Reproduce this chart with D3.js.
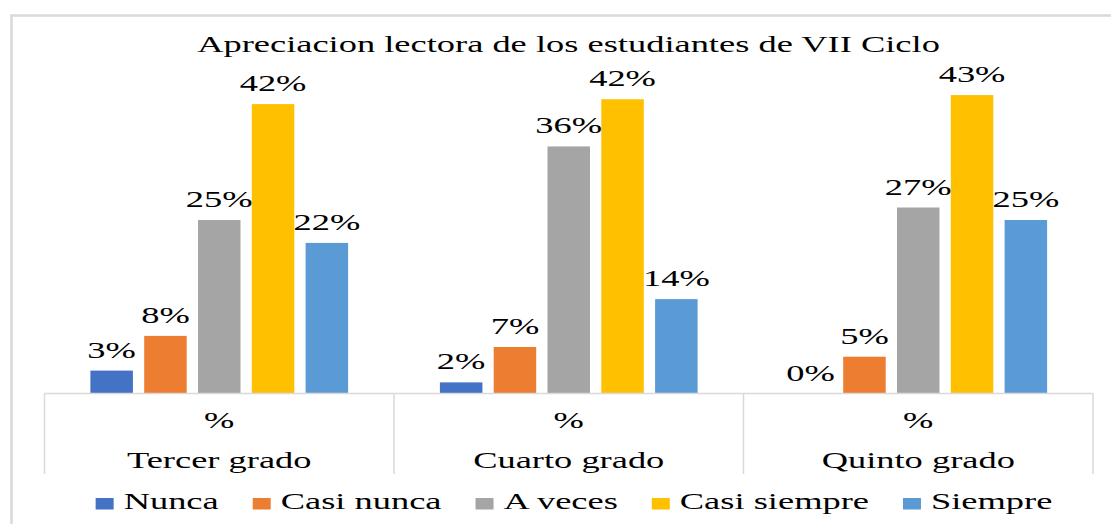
<!DOCTYPE html>
<html>
<head>
<meta charset="utf-8">
<script src="https://cdn.jsdelivr.net/npm/d3@7"></script>
<style>
  html, body { margin: 0; padding: 0; background: #fff; }
  svg { display: block; }
</style>
</head>
<body>
<svg id="chart" width="1111" height="524"></svg>
<script>
const title = "Apreciacion lectora de los estudiantes de VII Ciclo";
const groups = ["Tercer grado", "Cuarto grado", "Quinto grado"];
const subLabel = "%";
const series = ["Nunca", "Casi nunca", "A veces", "Casi siempre", "Siempre"];
const colors = ["#4472C4", "#ED7D31", "#A5A5A5", "#FFC000", "#5B9BD5"];
const tercer = [0.033, 0.083, 0.250, 0.417, 0.217];
const cuarto = [0.016, 0.067, 0.356, 0.424, 0.136];
const quinto = [0.000, 0.053, 0.268, 0.430, 0.250];
const values = [tercer, cuarto, quinto];

const FS = 22.5;
const svg = d3.select("#chart");
const grey = "#d9d9d9";

// outer chart border (cropped on the right / bottom)
svg.append("rect")
  .attr("x", 11.5).attr("y", 15.5)
  .attr("width", 1200).attr("height", 600)
  .attr("fill", "none").attr("stroke", grey).attr("stroke-width", 2.5);

let SX = 1.5;
function addText(parent, x, y, str, anchor = "middle") {
  return parent.append("text")
    .attr("x", 0).attr("y", 0)
    .attr("transform", `translate(${x},${y}) scale(${SX},1)`)
    .attr("text-anchor", anchor)
    .attr("font-family", "Liberation Serif")
    .style("font-family", `"Liberation Serif"`)
    .style("font-size", FS + "px")
    .style("fill", "#000")
    .text(str);
}

const left = 44.5, right = 1093, baseY = 393.5;
const x0 = d3.scaleBand().domain(groups).range([left, right]).padding(0);
const x1 = d3.scaleBand().domain(series).range([0, x0.bandwidth()])
  .paddingInner(0.21).paddingOuter(0.853);
const y = d3.scaleLinear().domain([0, 0.5]).range([baseY, baseY - 347]);
const fmt = d3.format(".0%");

// title; its width in the reference fixes the horizontal text stretch
const tt = addText(svg, 568.5, 52, title);
SX = 743 / tt.node().getComputedTextLength();
tt.attr("transform", `translate(568.5,52) scale(${SX},1)`);

// bars
const gG = svg.append("g").selectAll("g").data(groups).join("g")
  .attr("transform", d => `translate(${x0(d)},0)`);
gG.each(function(g, gi) {
  const sel = d3.select(this);
  const data = series.map((s, si) => ({ s, si, v: values[gi][si] }));
  sel.selectAll("rect").data(data).join("rect")
    .attr("x", d => x1(d.s))
    .attr("width", x1.bandwidth())
    .attr("y", d => y(d.v))
    .attr("height", d => y(0) - y(d.v))
    .attr("fill", d => colors[d.si]);
  data.forEach(d => {
    addText(sel, x1(d.s) + x1.bandwidth() / 2, y(d.v) - 13, fmt(d.v));
  });
});

// category axis (multi-level)
const ax = svg.append("g");
ax.append("line").attr("x1", left).attr("x2", right)
  .attr("y1", baseY).attr("y2", baseY)
  .attr("stroke", grey).attr("stroke-width", 1.5);
const seps = groups.map(g => x0(g)).concat([right]);
ax.selectAll("line.sep").data(seps).join("line").attr("class", "sep")
  .attr("x1", d => d).attr("x2", d => d)
  .attr("y1", baseY).attr("y2", 474)
  .attr("stroke", grey).attr("stroke-width", 1.5);
groups.forEach(g => {
  const cx = x0(g) + x0.bandwidth() / 2;
  addText(ax, cx, 428, subLabel);
  addText(ax, cx, 468, g);
});

// legend
const lg = svg.append("g");
const sw = 18, swGap = 10, itemGap = 34;
const items = series.map((s, i) => {
  const t = addText(lg, 0, 509, s, "start");
  const w = t.node().getComputedTextLength() * SX;
  return { s, i, t, w };
});
const total = d3.sum(items, d => sw + swGap + d.w) + itemGap * (items.length - 1);
let cx = 574 - total / 2;
items.forEach(d => {
  lg.append("rect").attr("x", cx).attr("y", 498).attr("width", sw).attr("height", 11.5)
    .attr("fill", colors[d.i]);
  d.t.attr("transform", `translate(${cx + sw + swGap},509) scale(${SX},1)`);
  cx += sw + swGap + d.w + itemGap;
});
</script>
</body>
</html>
